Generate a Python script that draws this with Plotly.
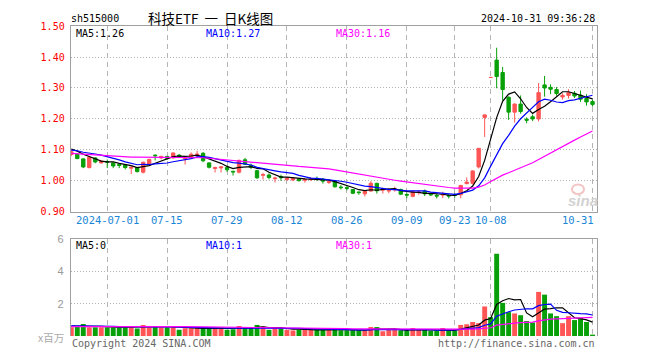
import math
import numpy as np
import plotly.graph_objects as go

# ---------------- data ----------------
dates = [
    "2024-06-21", "2024-06-24", "2024-06-25", "2024-06-26", "2024-06-27", "2024-06-28",
    "2024-07-01", "2024-07-02", "2024-07-03", "2024-07-04", "2024-07-05",
    "2024-07-08", "2024-07-09", "2024-07-10", "2024-07-11", "2024-07-12",
    "2024-07-15", "2024-07-16", "2024-07-17", "2024-07-18", "2024-07-19",
    "2024-07-22", "2024-07-23", "2024-07-24", "2024-07-25", "2024-07-26",
    "2024-07-29", "2024-07-30", "2024-07-31",
    "2024-08-01", "2024-08-02",
    "2024-08-05", "2024-08-06", "2024-08-07", "2024-08-08", "2024-08-09",
    "2024-08-12", "2024-08-13", "2024-08-14", "2024-08-15", "2024-08-16",
    "2024-08-19", "2024-08-20", "2024-08-21", "2024-08-22", "2024-08-23",
    "2024-08-26", "2024-08-27", "2024-08-28", "2024-08-29", "2024-08-30",
    "2024-09-02", "2024-09-03", "2024-09-04", "2024-09-05", "2024-09-06",
    "2024-09-09", "2024-09-10", "2024-09-11", "2024-09-12", "2024-09-13",
    "2024-09-18", "2024-09-19", "2024-09-20",
    "2024-09-23", "2024-09-24", "2024-09-25", "2024-09-26", "2024-09-27",
    "2024-09-30",
    "2024-10-08", "2024-10-09", "2024-10-10", "2024-10-11",
    "2024-10-14", "2024-10-15", "2024-10-16", "2024-10-17", "2024-10-18",
    "2024-10-21", "2024-10-22", "2024-10-23", "2024-10-24", "2024-10-25",
    "2024-10-28", "2024-10-29", "2024-10-30", "2024-10-31",
]

open_ = [
    1.085, 1.086, 1.071, 1.043, 1.074, 1.058, 1.062, 1.058, 1.053, 1.051,
    1.041, 1.043, 1.028, 1.053, 1.083, 1.074, 1.079, 1.074, 1.083, 1.072,
    1.074, 1.083, 1.089, 1.058, 1.040, 1.042, 1.043, 1.031, 1.028, 1.068,
    1.050, 1.033, 1.018, 1.019, 1.007, 1.014, 1.004, 1.003, 1.006, 1.002,
    1.004, 1.007, 1.006, 0.995, 0.999, 0.980, 0.978, 0.972, 0.964, 0.958,
    0.967, 0.992, 0.970, 0.967, 0.971, 0.972, 0.956, 0.950, 0.962, 0.967,
    0.957, 0.953, 0.954, 0.953, 0.955, 0.955, 0.991, 0.992, 1.045, 1.205,
    1.334, 1.390, 1.350, 1.270, 1.222, 1.248, 1.199, 1.207, 1.200, 1.310,
    1.302, 1.295, 1.271, 1.276, 1.283, 1.277, 1.266, 1.256,
]
high = [
    1.099, 1.090, 1.073, 1.078, 1.076, 1.066, 1.069, 1.060, 1.055, 1.053,
    1.046, 1.045, 1.062, 1.072, 1.086, 1.081, 1.080, 1.092, 1.087, 1.076,
    1.092, 1.097, 1.093, 1.060, 1.046, 1.048, 1.050, 1.032, 1.069, 1.074,
    1.056, 1.036, 1.026, 1.024, 1.013, 1.020, 1.012, 1.010, 1.008, 1.008,
    1.011, 1.014, 1.008, 1.000, 1.001, 0.986, 0.983, 0.974, 0.966, 0.968,
    0.999, 0.994, 0.978, 0.975, 0.981, 0.975, 0.962, 0.968, 0.968, 0.972,
    0.961, 0.958, 0.965, 0.956, 0.961, 0.987, 1.011, 1.034, 1.106, 1.215,
    1.334, 1.430, 1.368, 1.273, 1.250, 1.276, 1.205, 1.214, 1.316, 1.339,
    1.312, 1.303, 1.283, 1.296, 1.290, 1.292, 1.280, 1.262,
]
low = [
    1.080, 1.070, 1.041, 1.040, 1.057, 1.056, 1.041, 1.041, 1.041, 1.037,
    1.022, 1.027, 1.024, 1.050, 1.066, 1.070, 1.068, 1.072, 1.075, 1.053,
    1.072, 1.074, 1.060, 1.040, 1.027, 1.027, 1.029, 1.017, 1.024, 1.052,
    1.038, 1.006, 1.004, 1.005, 0.995, 1.000, 1.001, 0.999, 0.997, 0.994,
    0.999, 1.000, 0.991, 0.990, 0.978, 0.972, 0.969, 0.957, 0.955, 0.950,
    0.965, 0.959, 0.959, 0.960, 0.965, 0.954, 0.944, 0.947, 0.955, 0.951,
    0.951, 0.943, 0.944, 0.943, 0.946, 0.944, 0.989, 0.988, 1.040, 1.142,
    1.334, 1.299, 1.260, 1.197, 1.188, 1.217, 1.186, 1.193, 1.192, 1.272,
    1.280, 1.275, 1.262, 1.266, 1.268, 1.255, 1.243, 1.240,
]
close = [
    1.094, 1.072, 1.045, 1.076, 1.061, 1.064, 1.060, 1.048, 1.050, 1.043,
    1.044, 1.030, 1.060, 1.069, 1.081, 1.079, 1.072, 1.090, 1.079, 1.074,
    1.086, 1.086, 1.065, 1.044, 1.043, 1.045, 1.036, 1.029, 1.066, 1.054,
    1.044, 1.010, 1.020, 1.011, 1.009, 1.010, 1.009, 1.008, 1.001, 1.004,
    1.006, 1.005, 0.999, 0.997, 0.981, 0.978, 0.976, 0.960, 0.962, 0.966,
    0.992, 0.968, 0.973, 0.969, 0.973, 0.957, 0.954, 0.966, 0.964, 0.958,
    0.955, 0.951, 0.956, 0.951, 0.953, 0.985, 0.996, 1.032, 1.105, 1.213,
    1.334, 1.337, 1.295, 1.222, 1.248, 1.224, 1.196, 1.200, 1.285, 1.300,
    1.296, 1.282, 1.276, 1.285, 1.274, 1.264, 1.255, 1.247,
]
# volume, millions
volume = [
    0.55, 0.63, 0.75, 0.55, 0.55, 0.55, 0.55, 0.55, 0.55, 0.55,
    0.55, 0.47, 0.69, 0.55, 0.63, 0.55, 0.55, 0.63, 0.39, 0.49,
    0.49, 0.49, 0.49, 0.49, 0.49, 0.49, 0.39, 0.43, 0.63, 0.49,
    0.49, 0.69, 0.59, 0.39, 0.49, 0.49, 0.39, 0.35, 0.39, 0.39,
    0.39, 0.39, 0.39, 0.45, 0.40, 0.36, 0.36, 0.36, 0.36, 0.36,
    0.56, 0.56, 0.30, 0.40, 0.40, 0.36, 0.32, 0.50, 0.40, 0.40,
    0.32, 0.32, 0.50, 0.32, 0.32, 0.69, 0.73, 0.87, 0.80, 1.83,
    1.17, 5.08, 2.05, 1.48, 1.40, 1.29, 0.93, 0.84, 2.73, 2.56,
    1.40, 1.23, 0.80, 1.23, 0.99, 1.13, 0.87, 0.09,
]
# sessions before the visible window (feed the moving averages only)
pre_close = [
    1.110, 1.108, 1.106, 1.104, 1.103, 1.102, 1.102, 1.101,
    1.046, 1.047, 1.033, 1.063, 1.072, 1.084, 1.082, 1.075, 1.093, 1.082, 1.077, 1.089,
    1.090, 1.093, 1.096, 1.098, 1.098, 1.107, 1.095, 1.112, 1.107,
]
pre_volume = [
    0.55, 0.58, 0.52, 0.60, 0.57, 0.54, 0.56, 0.59, 0.53, 0.55,
    0.58, 0.56, 0.54, 0.57, 0.55, 0.60, 0.58, 0.53, 0.56, 0.57,
    0.62, 0.66, 0.64, 0.60, 0.65, 0.63, 0.61, 0.68, 0.62,
]

tick_dates = ["2024-07-01", "2024-07-15", "2024-07-29", "2024-08-12", "2024-08-26",
              "2024-09-09", "2024-09-23", "2024-10-08", "2024-10-31"]
tick_text = ["2024-07-01", "07-15", "07-29", "08-12", "08-26", "09-09", "09-23", "10-08", "10-31"]
price_ticks = [0.90, 1.00, 1.10, 1.20, 1.30, 1.40, 1.50]
vol_ticks = [2, 4, 6]

symbol = "sh515000"
title_text = "科技ETF&nbsp;&nbsp;一&nbsp;&nbsp;日K线图"
stamp = "2024-10-31 09:36:28"

# ---------------- helpers ----------------
W, H = 660, 360
def px(x):
    return x / W
def py(y):
    return 1 - y / H

def moving_average(values, pre, n):
    full = np.array(list(pre) + list(values), dtype=float)
    k = len(pre)
    return [float(full[k + i - n + 1:k + i + 1].mean()) for i in range(len(values))]

def trunc(v, d):
    f = 10 ** d
    return math.floor(v * f + 1e-9) / f

ma5 = moving_average(close, pre_close, 5)
ma10 = moving_average(close, pre_close, 10)
ma30 = moving_average(close, pre_close, 30)
vma5 = moving_average(volume, pre_volume, 5)
vma10 = moving_average(volume, pre_volume, 10)
vma30 = moving_average(volume, pre_volume, 30)

RED = "#ff5555"
GREEN = "#08a008"
bar_colors = [RED if c > o else GREEN for o, c in zip(open_, close)]

MONO = "DejaVu Sans Mono"
GRID = "#b4b4b4"
BORDER = "#a0a0a0"

fig = go.Figure()

fig.add_trace(go.Candlestick(
    x=dates, open=open_, high=high, low=low, close=close,
    increasing=dict(line=dict(color=RED, width=1), fillcolor=RED),
    decreasing=dict(line=dict(color=GREEN, width=1), fillcolor=GREEN),
    whiskerwidth=0, xaxis="x", yaxis="y", hoverinfo="skip", showlegend=False,
))
for series, col in ((ma5, "black"), (ma10, "#0000ff"), (ma30, "#ff00ff")):
    fig.add_trace(go.Scatter(x=dates, y=series, mode="lines",
                             line=dict(color=col, width=1.2),
                             xaxis="x", yaxis="y", hoverinfo="skip", showlegend=False))

fig.add_trace(go.Bar(x=dates, y=volume, marker=dict(color=bar_colors, line=dict(width=0)),
                     xaxis="x2", yaxis="y2", hoverinfo="skip", showlegend=False))
for series, col in ((vma5, "black"), (vma10, "#0000ff"), (vma30, "#ff00ff")):
    fig.add_trace(go.Scatter(x=dates, y=series, mode="lines",
                             line=dict(color=col, width=1.2),
                             xaxis="x2", yaxis="y2", hoverinfo="skip", showlegend=False))

xdom = [px(70.7), px(597)]
xr = [-0.1, len(dates) - 1 + 0.75]

common_x = dict(
    domain=xdom, type="category", categoryorder="array", categoryarray=dates,
    range=xr, tickvals=tick_dates, showticklabels=False, ticks="",
    showgrid=True, gridcolor=GRID, griddash="5px,4px", gridwidth=1,
    zeroline=False, fixedrange=True,
)

fig.update_layout(
    width=W, height=H,
    margin=dict(l=0, r=0, t=0, b=0),
    paper_bgcolor="white", plot_bgcolor="white",
    showlegend=False, bargap=0.18, boxgap=0.2,
    xaxis=dict(**common_x, anchor="y", showline=True, linecolor=BORDER, linewidth=1,
               mirror=True, rangeslider=dict(visible=False)),
    yaxis=dict(domain=[py(212.3), py(20.7)], range=[0.90, 1.50],
               tickvals=price_ticks, ticktext=[f"{v:.2f}" for v in price_ticks],
               tickfont=dict(family=MONO, size=10, color="#ff0000"),
               ticks="", ticklabelstandoff=3,
               showgrid=True, gridcolor=GRID, griddash="1px,2px",
               showline=True, linecolor=BORDER, linewidth=1, mirror=True,
               zeroline=False, fixedrange=True),
    xaxis2=dict(**common_x, anchor="y2", side="top", showline=True, linecolor=BORDER,
                linewidth=1, mirror=False),
    yaxis2=dict(domain=[py(340.5), py(240.3)], range=[0, 6],
                tickvals=vol_ticks, ticktext=[str(v) for v in vol_ticks],
                tickfont=dict(family="Liberation Sans", size=11, color="#999999"),
                ticks="", ticklabelstandoff=4,
                showgrid=True, gridcolor=GRID, griddash="1px,2px",
                showline=True, linecolor=BORDER, linewidth=1, mirror=True,
                zeroline=False, fixedrange=True),
)

ann = []
def text(x, y, s, color="black", size=10, family=MONO, xanchor="left", **kw):
    ann.append(dict(x=px(x), y=py(y), xref="paper", yref="paper", text=s, showarrow=False,
                    xanchor=xanchor, yanchor="middle",
                    font=dict(family=family, size=size, color=color), **kw))

# header
text(69, 13, symbol)
text(210, 12, title_text, size=13.5, family="Noto Sans CJK SC", xanchor="center")
text(597, 13, stamp, xanchor="right")

# MA legends (values truncated like the source)
text(74, 28, f"MA5:{trunc(ma5[-1], 2):.2f}", color="black")
text(204, 28, f"MA10:{trunc(ma10[-1], 2):.2f}", color="#0000ff")
text(334, 28, f"MA30:{trunc(ma30[-1], 2):.2f}", color="#ff00ff")
text(74, 247, f"MA5:{int(trunc(vma5[-1], 0))}", color="black")
text(204, 247, f"MA10:{int(trunc(vma10[-1], 0))}", color="#0000ff")
text(334, 247, f"MA30:{int(trunc(vma30[-1], 0))}", color="#ff00ff")

# x tick labels
for i, (d, t) in enumerate(zip(tick_dates, tick_text)):
    last = i == len(tick_dates) - 1
    ann.append(dict(x=d, y=py(220.5), xref="x", yref="paper", text=t, showarrow=False,
                    xanchor="right" if last else "center", yanchor="middle",
                    xshift=3 if last else 0,
                    font=dict(family=MONO, size=10.5, color="#1a86d6")))

# volume unit and footers
text(66, 342, "x百万", color="#aaaaaa", size=10.5, family="Noto Sans CJK SC", xanchor="right")
text(70, 348, "Copyright 2024 SINA.COM", color="#666666")
text(597, 348, "http://finance.sina.com.cn", color="#666666", xanchor="right")

# sina watermark
text(583, 201, "<b><i>sina</i></b>", color="#d2d2d2", size=15, family="Liberation Sans",
     xanchor="center")
fig.add_shape(type="circle", xref="paper", yref="paper",
              x0=px(572), x1=px(584), y0=py(194), y1=py(184),
              line=dict(color="#f3c4c4", width=2), fillcolor="rgba(0,0,0,0)")

fig.update_layout(annotations=ann)
fig.write_html("out.html", config={"displayModeBar": False},
               post_script="document.body.style.margin='0';")
